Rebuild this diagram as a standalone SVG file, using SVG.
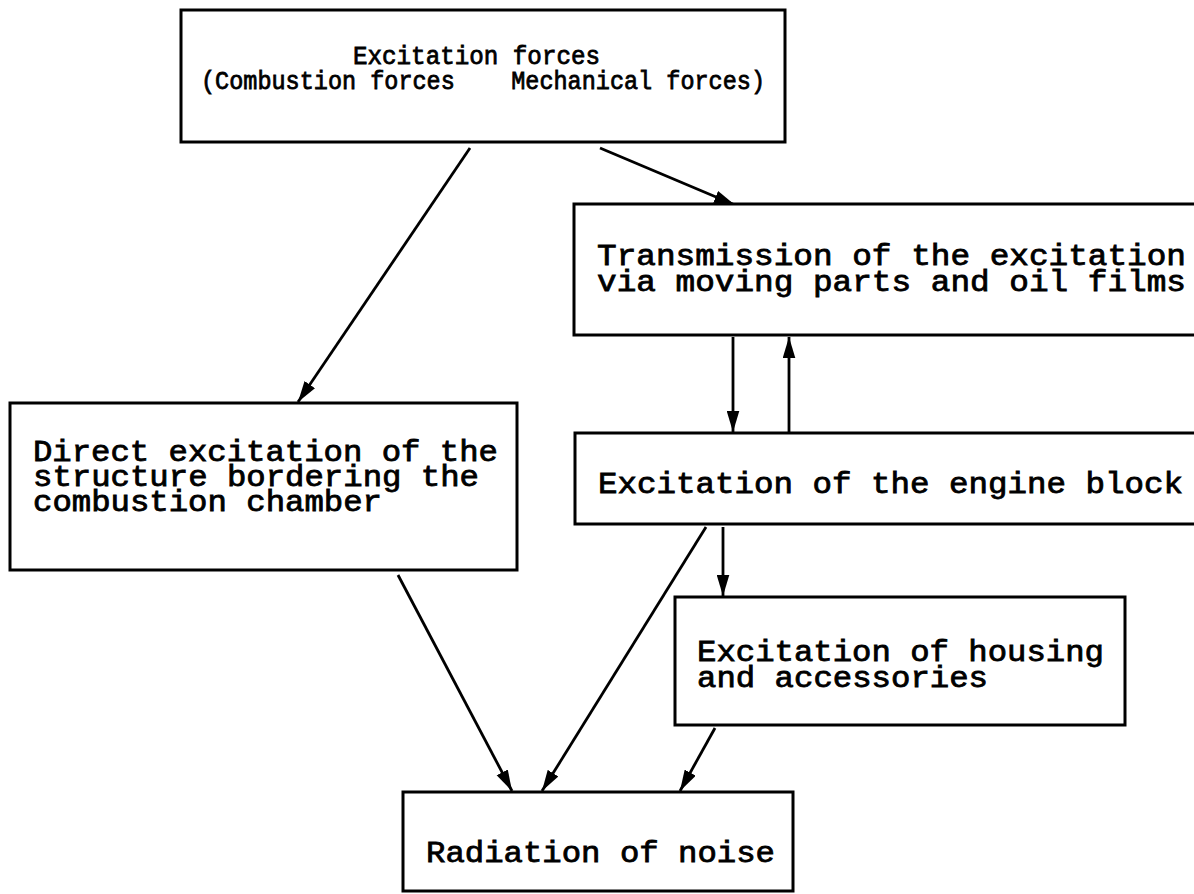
<svg xmlns="http://www.w3.org/2000/svg" width="1194" height="894" viewBox="0 0 1194 894">
<style>
.box{fill:#fff;stroke:#000;stroke-width:3}
.t{font-family:"Liberation Mono","Courier New",monospace;font-size:29px;fill:#000;stroke:#000;stroke-width:0.8}
.s{font-size:26px}
.c{fill:none;stroke:#000;stroke-width:2.8}
</style>
<defs>
<marker id="ah" viewBox="0 0 20 12" refX="20" refY="6" markerWidth="21" markerHeight="13" markerUnits="userSpaceOnUse" orient="auto">
<path d="M0,0 L20,6 L0,12 Z" fill="#000"/>
</marker>
</defs>
<rect width="1194" height="894" fill="#fff"/>
<g id="connectors">
<line class="c" x1="470" y1="148" x2="298" y2="402" marker-end="url(#ah)"/>
<line class="c" x1="600" y1="148" x2="735" y2="205" marker-end="url(#ah)"/>
<line class="c" x1="733" y1="337" x2="733" y2="432" marker-end="url(#ah)"/>
<line class="c" x1="789" y1="432" x2="789" y2="337" marker-end="url(#ah)"/>
<line class="c" x1="398" y1="575" x2="512" y2="791" marker-end="url(#ah)"/>
<line class="c" x1="706" y1="527" x2="542" y2="791" marker-end="url(#ah)"/>
<line class="c" x1="723" y1="527" x2="723" y2="596" marker-end="url(#ah)"/>
<line class="c" x1="715" y1="728" x2="680" y2="791" marker-end="url(#ah)"/>
</g>
<g id="excitation-forces">
<rect class="box" x="181" y="10" width="604" height="132"/>
<text class="t s" x="353" y="64" textLength="247" lengthAdjust="spacingAndGlyphs">Excitation forces</text>
<text class="t s" x="201" y="89" textLength="564" lengthAdjust="spacingAndGlyphs" xml:space="preserve">(Combustion forces    Mechanical forces)</text>
</g>
<g id="transmission">
<rect class="box" x="574" y="204" width="630" height="131"/>
<text class="t" x="597" y="265" textLength="589" lengthAdjust="spacingAndGlyphs">Transmission of the excitation</text>
<text class="t" x="597" y="291" textLength="589" lengthAdjust="spacingAndGlyphs">via moving parts and oil films</text>
</g>
<g id="engine-block">
<rect class="box" x="575" y="433" width="629" height="91"/>
<text class="t" x="598" y="493" textLength="585" lengthAdjust="spacingAndGlyphs">Excitation of the engine block</text>
</g>
<g id="direct-excitation">
<rect class="box" x="10" y="403" width="507" height="167"/>
<text class="t" x="33" y="461" textLength="465" lengthAdjust="spacingAndGlyphs">Direct excitation of the</text>
<text class="t" x="33" y="486" textLength="446" lengthAdjust="spacingAndGlyphs">structure bordering the</text>
<text class="t" x="33" y="511" textLength="349" lengthAdjust="spacingAndGlyphs">combustion chamber</text>
</g>
<g id="housing">
<rect class="box" x="675" y="597" width="450" height="128"/>
<text class="t" x="697" y="661" textLength="407" lengthAdjust="spacingAndGlyphs">Excitation of housing</text>
<text class="t" x="697" y="687" textLength="291" lengthAdjust="spacingAndGlyphs">and accessories</text>
</g>
<g id="radiation">
<rect class="box" x="403" y="792" width="390" height="99"/>
<text class="t" x="426" y="862" textLength="349" lengthAdjust="spacingAndGlyphs">Radiation of noise</text>
</g>
</svg>
